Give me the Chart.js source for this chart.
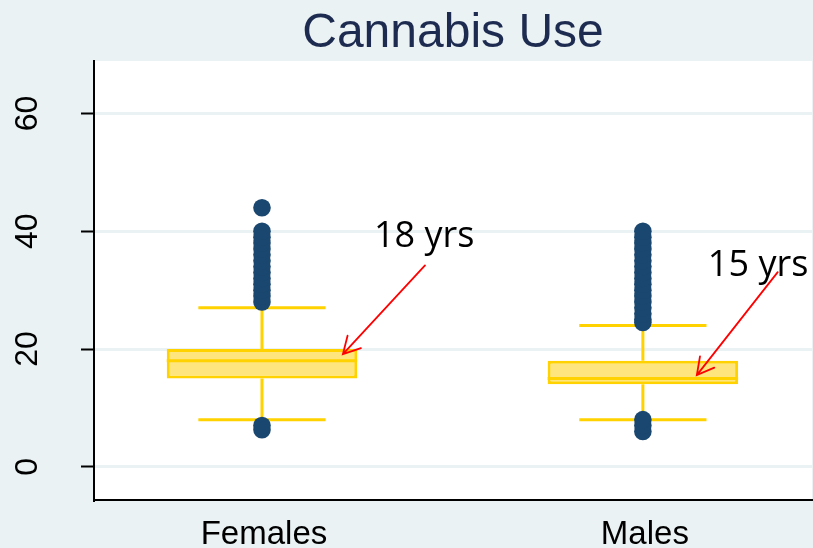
<!DOCTYPE html>
<html>
<head>
<meta charset="utf-8">
<script src="https://cdn.jsdelivr.net/npm/chart.js@4.4.1/dist/chart.umd.min.js"></script>
<style>
  html, body { margin: 0; padding: 0; background: #EAF2F3; }
  #wrap { width: 813px; height: 548px; }
</style>
</head>
<body>
<div id="wrap"><canvas id="c" width="813" height="548"></canvas></div>
<script>
// ---------- data ----------
const categories   = ['Females', 'Males'];
const catPositions = [1, 2];
const q1           = [15, 14];
const medians      = [18, 15];
const q3           = [20, 18];
const whiskerLow   = [8, 8];
const whiskerHigh  = [27, 24];
const outliersFemales = [6.3, 7, 28, 29, 30, 31, 32, 33, 34, 35, 36, 37, 38, 39, 40, 44];
const outliersMales   = [6, 7, 8, 24.5, 25, 26, 27, 28, 29, 30, 31, 32, 33, 34, 35, 36, 37, 38, 39, 40];
const yTicks = [0, 20, 40, 60];
const titleText = 'Cannabis Use';
const annotationTexts = ['18 yrs', '15 yrs'];
// annotation anchors in data coordinates
const annotationText = [{x: 1.294, y: 37.35}, {x: 2.1706, y: 32.4}];
const arrowFrom      = [{x: 1.428, y: 34.2},  {x: 2.354, y: 33.06}];
const arrowTo        = [{x: 1.2125, y: 19.13},{x: 2.1417, y: 15.57}];

// ---------- styles ----------
const BG = '#EAF2F3';
const GOLD = '#FFD200';
const GOLD_FILL = '#FFE57E';
const NAVY = '#1A476F';
const CAP_HALF = 0.167;
const BOX_HALF = 0.25;

// derived datasets
const boxData = catPositions.map((p, i) => ({x: p, y: [q1[i], q3[i]]}));
const whiskerData = [];
const capData = [];
const medianData = [];
catPositions.forEach((p, i) => {
  whiskerData.push({x: p, y: q3[i]}, {x: p, y: whiskerHigh[i]}, {x: p, y: null});
  whiskerData.push({x: p, y: whiskerLow[i]}, {x: p, y: q1[i]}, {x: p, y: null});
  capData.push({x: p - CAP_HALF, y: whiskerHigh[i]}, {x: p + CAP_HALF, y: whiskerHigh[i]}, {x: p, y: null});
  capData.push({x: p - CAP_HALF, y: whiskerLow[i]}, {x: p + CAP_HALF, y: whiskerLow[i]}, {x: p, y: null});
  medianData.push({x: p - BOX_HALF, y: medians[i]}, {x: p + BOX_HALF, y: medians[i]}, {x: p, y: null});
});
const outlierData = [
  ...outliersFemales.map(v => ({x: catPositions[0], y: v})),
  ...outliersMales.map(v => ({x: catPositions[1], y: v}))
];

const bgPlugin = {
  id: 'bg',
  beforeDraw(chart) {
    const {ctx, chartArea: a} = chart;
    ctx.save();
    ctx.fillStyle = BG;
    ctx.fillRect(0, 0, chart.width, chart.height);
    ctx.fillStyle = '#FFFFFF';
    ctx.fillRect(a.left, a.top, a.right - a.left, a.bottom - a.top);
    ctx.restore();
  }
};

const textPlugin = {
  id: 'texts',
  afterDraw(chart) {
    const {ctx, chartArea: a} = chart;
    const xs = chart.scales.x, ys = chart.scales.y;
    ctx.save();
    // title
    ctx.fillStyle = '#1E2B50';
    ctx.font = '48px "Liberation Sans", Arial, sans-serif';
    ctx.textAlign = 'center';
    ctx.textBaseline = 'alphabetic';
    ctx.fillText(titleText, (a.left + a.right) / 2, 47);
    // x labels
    ctx.fillStyle = '#000000';
    ctx.font = '33px "Liberation Sans", Arial, sans-serif';
    categories.forEach((c, i) => {
      ctx.fillText(c, xs.getPixelForValue(catPositions[i]) + 2, 544);
    });
    // y labels (rotated)
    ctx.font = '32px "Liberation Sans", Arial, sans-serif';
    yTicks.forEach(t => {
      ctx.save();
      ctx.translate(37, ys.getPixelForValue(t));
      ctx.rotate(-Math.PI / 2);
      ctx.textAlign = 'center';
      ctx.fillText(String(t), 0, 0);
      ctx.restore();
    });
    // annotations
    ctx.font = '36px "Open Sans", Lato, sans-serif';
    ctx.textAlign = 'left';
    annotationTexts.forEach((t, i) => {
      ctx.fillStyle = '#000000';
      ctx.fillText(t, xs.getPixelForValue(annotationText[i].x), ys.getPixelForValue(annotationText[i].y));
    });
    // arrows
    ctx.strokeStyle = '#FF0000';
    ctx.lineWidth = 1.8;
    ctx.lineCap = 'round';
    arrowFrom.forEach((f, i) => {
      const x0 = xs.getPixelForValue(f.x), y0 = ys.getPixelForValue(f.y);
      const x1 = xs.getPixelForValue(arrowTo[i].x), y1 = ys.getPixelForValue(arrowTo[i].y);
      const ang = Math.atan2(y0 - y1, x0 - x1);
      const L = 19, spread = 0.5;
      ctx.beginPath();
      ctx.moveTo(x0, y0); ctx.lineTo(x1, y1);
      ctx.moveTo(x1 + L * Math.cos(ang - spread), y1 + L * Math.sin(ang - spread));
      ctx.lineTo(x1, y1);
      ctx.lineTo(x1 + L * Math.cos(ang + spread), y1 + L * Math.sin(ang + spread));
      ctx.stroke();
    });
    ctx.restore();
  }
};

new Chart(document.getElementById('c'), {
  type: 'bar',
  data: {
    datasets: [
      {
        type: 'scatter', label: 'Outliers', data: outlierData, order: 0,
        pointRadius: 8.8, pointBackgroundColor: NAVY, pointBorderWidth: 0, pointBorderColor: NAVY
      },
      {
        type: 'line', label: 'Median', data: medianData, order: 1,
        borderColor: GOLD, borderWidth: 3, pointRadius: 0, spanGaps: false
      },
      {
        type: 'line', label: 'Caps', data: capData, order: 2,
        borderColor: GOLD, borderWidth: 3, pointRadius: 0, spanGaps: false
      },
      {
        type: 'line', label: 'Whiskers', data: whiskerData, order: 3,
        borderColor: GOLD, borderWidth: 3, pointRadius: 0, spanGaps: false
      },
      {
        type: 'bar', label: 'IQR', data: boxData, order: 4,
        backgroundColor: GOLD_FILL, borderColor: GOLD, borderWidth: 3, borderSkipped: false,
        categoryPercentage: 1.0, barPercentage: 0.5
      }
    ]
  },
  options: {
    responsive: false,
    animation: false,
    events: [],
    layout: { autoPadding: false, padding: { top: 61, right: 1, left: 0, bottom: 0 } },
    plugins: { legend: { display: false }, tooltip: { enabled: false }, title: { display: false } },
    scales: {
      x: {
        type: 'linear', min: 0.559, max: 2.444, offset: false, bounds: 'ticks',
        afterBuildTicks: s => { s.ticks = catPositions.map(v => ({value: v})); },
        afterFit: s => { s.height = 48; s.paddingLeft = 0; s.paddingRight = 0; },
        ticks: { display: false },
        grid: { display: false, offset: false },
        border: { display: true, color: '#000000', width: 2 }
      },
      y: {
        type: 'linear', min: -5.65, max: 68.93,
        afterBuildTicks: s => { s.ticks = yTicks.map(v => ({value: v})); },
        afterFit: s => { s.width = 94; s.paddingTop = 0; s.paddingBottom = 0; },
        ticks: { display: false },
        grid: { color: BG, lineWidth: 3, tickLength: 13, tickColor: '#000000', tickWidth: 2, drawTicks: true },
        border: { display: true, color: '#000000', width: 2 }
      }
    }
  },
  plugins: [bgPlugin, textPlugin]
});
</script>
</body>
</html>
